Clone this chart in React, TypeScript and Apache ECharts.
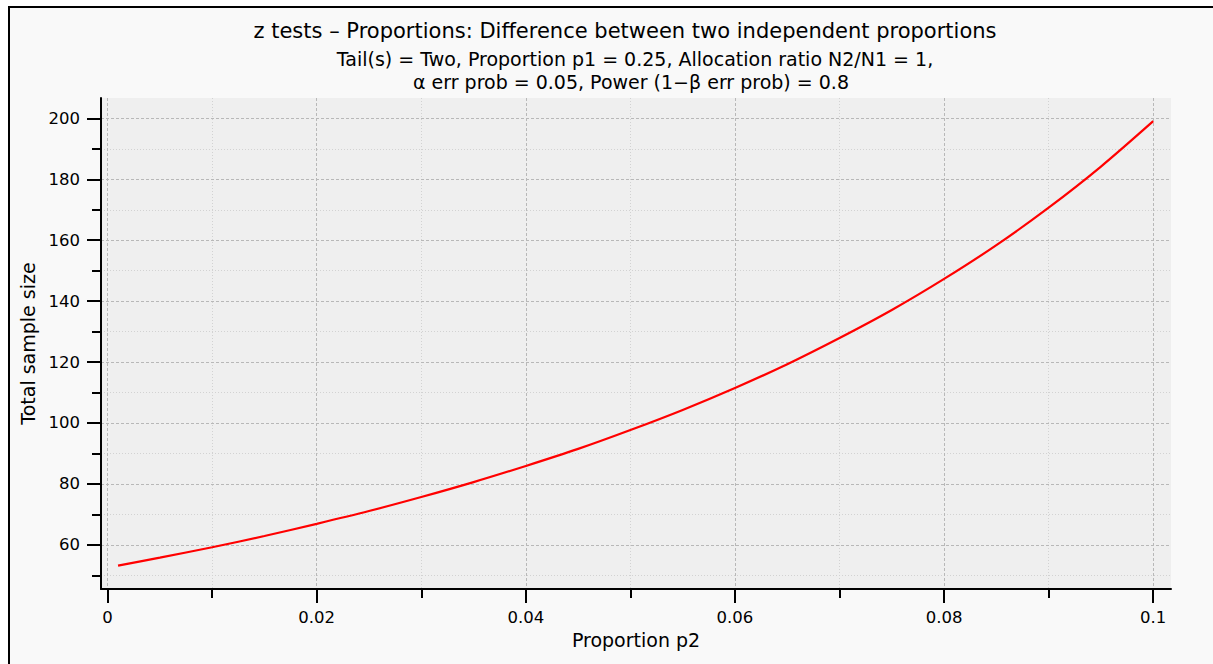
import React, { useEffect, useRef } from "react";
import * as echarts from "echarts";

// Proportion p2 and the total sample size required at each value
const p2Values = [0.001, 0.005, 0.01, 0.015, 0.02, 0.025, 0.03, 0.035, 0.04, 0.045, 0.05, 0.055, 0.06, 0.065, 0.07, 0.075, 0.08, 0.085, 0.09, 0.095, 0.1];
const totalSampleSize = [53.2, 55.8, 59.2, 62.9, 66.9, 71.1, 75.7, 80.6, 85.9, 91.5, 97.7, 104.3, 111.5, 119.3, 127.9, 137.1, 147.3, 158.4, 170.7, 184.2, 199.1];

// Axis ticks
const xMajorTicks = [0, 0.02, 0.04, 0.06, 0.08, 0.1];
const xMinorTicks = [0.01, 0.03, 0.05, 0.07, 0.09];
const yMajorTicks = [60, 80, 100, 120, 140, 160, 180, 200];
const yMinorTicks = [50, 70, 90, 110, 130, 150, 170, 190];

const titleText = "z tests \u2013 Proportions: Difference between two independent proportions";
const subLine1 = "Tail(s) = Two, Proportion p1 = 0.25, Allocation ratio N2/N1 = 1,";
const subLine2 = "\u03b1 err prob = 0.05, Power (1\u2212\u03b2 err prob) = 0.8";

const FONT = "DejaVu Sans";
const X_MIN = -0.00063;
const X_MAX = 0.1017;
const Y_MIN = 45.5;
const Y_MAX = 206.7;

export default function App() {
  const ref = useRef<HTMLDivElement>(null);

  useEffect(() => {
    if (!ref.current) return;
    const chart = echarts.init(ref.current, undefined, { renderer: "svg" });

    const majorSplit = { show: true, lineStyle: { color: "#b8b8b8", width: 1, type: [3, 2] as any } };
    const minorSplit = { show: true, lineStyle: { color: "#d2d2d2", width: 1, type: [1, 2] as any } };
    const tickStyle = { color: "#000", width: 2 };

    chart.setOption({
      animation: false,
      backgroundColor: "#ffffff",
      graphic: [
        {
          type: "rect",
          z: -10,
          silent: true,
          shape: { x: 9, y: 7, width: 1400, height: 800 },
          style: { fill: "#f9f9f9", stroke: "#000", lineWidth: 2 },
        },
      ],
      title: [
        {
          text: titleText,
          left: 620,
          top: 15,
          textAlign: "center",
          textStyle: { fontFamily: FONT, fontSize: 21, fontWeight: "normal", color: "#000" },
        },
        {
          text: subLine1,
          left: 630,
          top: 44,
          textAlign: "center",
          textStyle: { fontFamily: FONT, fontSize: 19, fontWeight: "normal", color: "#000" },
        },
        {
          text: subLine2,
          left: 626,
          top: 67,
          textAlign: "center",
          textStyle: { fontFamily: FONT, fontSize: 19, fontWeight: "normal", color: "#000" },
        },
      ],
      grid: {
        left: 101,
        top: 98,
        right: 42,
        bottom: 75,
        show: true,
        backgroundColor: "#efefef",
        borderWidth: 0,
      },
      xAxis: [
        {
          type: "value",
          min: X_MIN,
          max: X_MAX,
          position: "bottom",
          name: "Proportion p2",
          nameLocation: "middle",
          nameGap: 36,
          nameTextStyle: { fontFamily: FONT, fontSize: 19, color: "#000" },
          axisLine: { show: true, onZero: false, lineStyle: { color: "#000", width: 2 } },
          axisTick: { show: true, length: 14, lineStyle: tickStyle, customValues: xMajorTicks },
          axisLabel: {
            show: true,
            margin: 20,
            fontFamily: FONT,
            fontSize: 16.5,
            color: "#000",
            customValues: xMajorTicks,
            formatter: (v: number) => String(v),
          },
          splitLine: majorSplit,
          z: 3,
        },
        {
          type: "value",
          min: X_MIN,
          max: X_MAX,
          position: "bottom",
          axisLine: { show: false, onZero: false },
          axisTick: { show: true, length: 9, lineStyle: tickStyle, customValues: xMinorTicks },
          axisLabel: { show: false, customValues: xMinorTicks },
          splitLine: minorSplit,
          z: 2,
        },
      ],
      yAxis: [
        {
          type: "value",
          min: Y_MIN,
          max: Y_MAX,
          position: "left",
          name: "Total sample size",
          nameLocation: "middle",
          nameGap: 61,
          nameTextStyle: { fontFamily: FONT, fontSize: 19, color: "#000" },
          axisLine: { show: true, onZero: false, lineStyle: { color: "#000", width: 2 } },
          axisTick: { show: true, length: 14, lineStyle: tickStyle, customValues: yMajorTicks },
          axisLabel: {
            show: true,
            margin: 21,
            fontFamily: FONT,
            fontSize: 16.5,
            color: "#000",
            customValues: yMajorTicks,
          },
          splitLine: majorSplit,
          z: 3,
        },
        {
          type: "value",
          min: Y_MIN,
          max: Y_MAX,
          position: "left",
          axisLine: { show: false, onZero: false },
          axisTick: { show: true, length: 9, lineStyle: tickStyle, customValues: yMinorTicks },
          axisLabel: { show: false, customValues: yMinorTicks },
          splitLine: minorSplit,
          z: 2,
        },
      ],
      series: [
        {
          type: "line",
          xAxisIndex: 0,
          yAxisIndex: 0,
          data: p2Values.map((p, i) => [p, totalSampleSize[i]]),
          smooth: 0.3,
          showSymbol: false,
          lineStyle: { color: "#ff0000", width: 2.2 },
          z: 5,
        },
      ],
    });

    return () => chart.dispose();
  }, []);

  return (
    <div
      ref={ref}
      style={{ position: "absolute", left: 0, top: 0, width: 1213, height: 664 }}
    />
  );
}
